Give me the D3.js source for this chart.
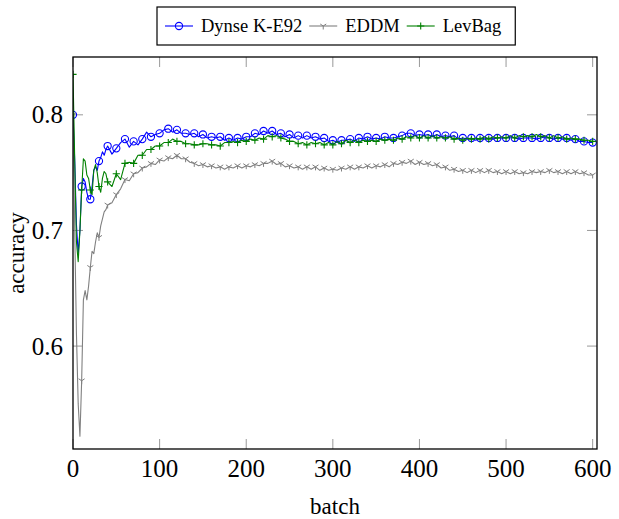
<!DOCTYPE html>
<html>
<head>
<meta charset="utf-8">
<script src="https://cdn.jsdelivr.net/npm/d3@7"></script>
<style>
  body { margin: 0; background: #fff; }
  svg { display: block; font-family: "Liberation Serif", "Times New Roman", serif; }
</style>
</head>
<body>
<div id="chart"></div>
<script>
const WIDTH = 619;
const HEIGHT = 519;
const MARGIN = { top: 57, right: 22, bottom: 70, left: 73 };
const INNER_WIDTH = WIDTH - MARGIN.left - MARGIN.right;
const INNER_HEIGHT = HEIGHT - MARGIN.top - MARGIN.bottom;

// batch numbers (x)
const batches = [
    0, 2, 4, 6, 8, 10, 12, 14, 16, 18, 20, 22, 24, 26, 28, 30, 32, 34, 36, 38, 40,
    45, 50, 55, 60, 65, 70, 75, 80, 85, 90,
    95, 100, 105, 110, 115, 120, 125, 130, 135, 140,
    145, 150, 155, 160, 165, 170, 175, 180, 185, 190,
    195, 200, 205, 210, 215, 220, 225, 230, 235, 240,
    245, 250, 255, 260, 265, 270, 275, 280, 285, 290,
    295, 300, 305, 310, 315, 320, 325, 330, 335, 340,
    345, 350, 355, 360, 365, 370, 375, 380, 385, 390,
    395, 400, 405, 410, 415, 420, 425, 430, 435, 440,
    445, 450, 455, 460, 465, 470, 475, 480, 485, 490,
    495, 500, 505, 510, 515, 520, 525, 530, 535, 540,
    545, 550, 555, 560, 565, 570, 575, 580, 585, 590,
    595, 600
];

const dynse = [
    0.800, 0.760, 0.705, 0.680, 0.700, 0.738, 0.745, 0.742, 0.733, 0.727, 0.727, 0.738, 0.752, 0.755, 0.752, 0.760, 0.763, 0.768, 0.765, 0.770, 0.773,
    0.766, 0.771, 0.776, 0.779, 0.772, 0.777, 0.774, 0.779, 0.785, 0.781,
    0.783, 0.784, 0.787, 0.788, 0.785, 0.787, 0.784, 0.784, 0.783, 0.784,
    0.781, 0.783, 0.780, 0.781, 0.780, 0.781, 0.778, 0.780, 0.778, 0.780,
    0.779, 0.781, 0.781, 0.784, 0.783, 0.786, 0.784, 0.786, 0.783, 0.784,
    0.781, 0.783, 0.780, 0.782, 0.780, 0.782, 0.780, 0.781, 0.779, 0.780,
    0.777, 0.778, 0.776, 0.778, 0.778, 0.779, 0.777, 0.780, 0.779, 0.781,
    0.779, 0.780, 0.779, 0.781, 0.780, 0.780, 0.781, 0.782, 0.784, 0.784,
    0.782, 0.783, 0.782, 0.783, 0.781, 0.783, 0.781, 0.782, 0.781, 0.782,
    0.779, 0.780, 0.779, 0.780, 0.778, 0.780, 0.779, 0.780, 0.779, 0.780,
    0.780, 0.780, 0.781, 0.780, 0.779, 0.780, 0.780, 0.780, 0.779, 0.780,
    0.781, 0.780, 0.779, 0.780, 0.779, 0.780, 0.778, 0.779, 0.777, 0.777,
    0.776, 0.776
];

const eddm = [
    0.800, 0.700, 0.610, 0.550, 0.522, 0.570, 0.640, 0.648, 0.640, 0.652, 0.668, 0.682, 0.680, 0.690, 0.698, 0.694, 0.704, 0.710, 0.716, 0.718, 0.722,
    0.724, 0.731, 0.736, 0.744, 0.743, 0.749, 0.750, 0.754, 0.755, 0.758,
    0.757, 0.761, 0.760, 0.763, 0.762, 0.765, 0.762, 0.762, 0.759, 0.758,
    0.756, 0.757, 0.755, 0.756, 0.754, 0.755, 0.753, 0.755, 0.754, 0.756,
    0.754, 0.756, 0.755, 0.757, 0.756, 0.758, 0.758, 0.760, 0.757, 0.758,
    0.755, 0.756, 0.754, 0.755, 0.753, 0.755, 0.753, 0.755, 0.752, 0.754,
    0.752, 0.753, 0.752, 0.754, 0.753, 0.755, 0.753, 0.755, 0.754, 0.756,
    0.754, 0.756, 0.755, 0.757, 0.755, 0.758, 0.757, 0.759, 0.758, 0.760,
    0.757, 0.759, 0.757, 0.758, 0.756, 0.757, 0.754, 0.755, 0.752, 0.753,
    0.751, 0.752, 0.750, 0.752, 0.750, 0.752, 0.750, 0.752, 0.750, 0.751,
    0.749, 0.751, 0.749, 0.751, 0.749, 0.750, 0.749, 0.751, 0.750, 0.751,
    0.750, 0.752, 0.750, 0.751, 0.749, 0.751, 0.749, 0.751, 0.749, 0.750,
    0.748, 0.748
];

const levbag = [
    0.835, 0.760, 0.690, 0.673, 0.700, 0.735, 0.762, 0.760, 0.748, 0.745, 0.735, 0.731, 0.752, 0.757, 0.750, 0.738, 0.733, 0.745, 0.751, 0.749, 0.742,
    0.738, 0.749, 0.744, 0.758, 0.759, 0.758, 0.765, 0.765, 0.770, 0.770,
    0.773, 0.773, 0.776, 0.776, 0.779, 0.777, 0.777, 0.775, 0.775, 0.774,
    0.774, 0.775, 0.775, 0.774, 0.774, 0.773, 0.776, 0.776, 0.777, 0.776,
    0.778, 0.777, 0.779, 0.778, 0.780, 0.779, 0.782, 0.781, 0.782, 0.780,
    0.779, 0.777, 0.777, 0.775, 0.776, 0.774, 0.776, 0.775, 0.776, 0.774,
    0.776, 0.774, 0.777, 0.775, 0.778, 0.776, 0.778, 0.776, 0.778, 0.777,
    0.778, 0.777, 0.779, 0.778, 0.779, 0.778, 0.780, 0.779, 0.781, 0.780,
    0.782, 0.780, 0.782, 0.780, 0.782, 0.780, 0.781, 0.780, 0.781, 0.779,
    0.780, 0.778, 0.780, 0.779, 0.780, 0.779, 0.781, 0.779, 0.781, 0.780,
    0.781, 0.780, 0.782, 0.780, 0.782, 0.781, 0.782, 0.781, 0.783, 0.781,
    0.782, 0.780, 0.782, 0.780, 0.781, 0.779, 0.780, 0.779, 0.779, 0.778,
    0.778, 0.777
];

const xTicks = [0, 100, 200, 300, 400, 500, 600];
const yTicks = [0.6, 0.7, 0.8];

const SERIES = [
    { name: "Dynse K-E92", values: dynse, color: "#0000ff", mark: "circle" },
    { name: "EDDM", values: eddm, color: "#808080", mark: "tri" },
    { name: "LevBag", values: levbag, color: "#008000", mark: "plus" }
];

function drawMark(g, type, color) {
    if (type === "circle") {
        g.append("circle").attr("r", 3.6)
            .attr("fill", "none").attr("stroke", color).attr("stroke-width", 1.1);
    } else if (type === "plus") {
        g.append("path").attr("d", "M-3.6,0H3.6M0,-3.6V3.6")
            .attr("stroke", color).attr("stroke-width", 1.1);
    } else {
        g.append("path").attr("d", "M0,0V3.5M0,0L-3,-2M0,0L3,-2")
            .attr("stroke", color).attr("stroke-width", 1);
    }
}

function createChart() {
    d3.select("#chart").selectAll("*").remove();

    const root = d3.select("#chart")
        .append("svg")
        .attr("width", WIDTH)
        .attr("height", HEIGHT)
        .attr("viewBox", `0 0 ${WIDTH} ${HEIGHT}`);

    const svg = root.append("g")
        .attr("transform", `translate(${MARGIN.left},${MARGIN.top})`);

    const x = d3.scaleLinear().domain([0, 605]).range([0, INNER_WIDTH]);
    const y = d3.scaleLinear().domain([0.511, 0.850]).range([INNER_HEIGHT, 0]);

    svg.append("clipPath").attr("id", "clip")
        .append("rect").attr("width", INNER_WIDTH).attr("height", INNER_HEIGHT);

    // --- Tick marks (inside, all four sides) ---
    const TICK = 10;
    const ticks = svg.append("g").attr("stroke", "#999").attr("stroke-width", 1);
    xTicks.forEach(t => {
        ticks.append("line").attr("x1", x(t)).attr("x2", x(t)).attr("y1", INNER_HEIGHT).attr("y2", INNER_HEIGHT - TICK);
        ticks.append("line").attr("x1", x(t)).attr("x2", x(t)).attr("y1", 0).attr("y2", TICK);
    });
    yTicks.forEach(t => {
        ticks.append("line").attr("x1", 0).attr("x2", TICK).attr("y1", y(t)).attr("y2", y(t));
        ticks.append("line").attr("x1", INNER_WIDTH).attr("x2", INNER_WIDTH - TICK).attr("y1", y(t)).attr("y2", y(t));
    });

    // --- Lines + markers ---
    const line = d3.line()
        .x((d, i) => x(batches[i]))
        .y(d => y(d));

    const plot = svg.append("g").attr("clip-path", "url(#clip)");
    SERIES.forEach(s => {
        plot.append("path")
            .datum(s.values)
            .attr("fill", "none")
            .attr("stroke", s.color)
            .attr("stroke-width", 1.1)
            .attr("stroke-linejoin", "round")
            .attr("d", line);

        const marked = s.values
            .map((v, i) => ({ b: batches[i], v }))
            .filter(d => d.b % 10 === 0);
        plot.selectAll(null)
            .data(marked)
            .join("g")
            .attr("transform", d => `translate(${x(d.b)},${y(d.v)})`)
            .each(function() { drawMark(d3.select(this), s.mark, s.color); });
    });

    // --- Frame ---
    svg.append("rect")
        .attr("width", INNER_WIDTH).attr("height", INNER_HEIGHT)
        .attr("fill", "none").attr("stroke", "#000").attr("stroke-width", 1.3);

    // --- Tick labels ---
    svg.selectAll(".xlab")
        .data(xTicks)
        .join("text")
        .attr("x", d => x(d))
        .attr("y", INNER_HEIGHT + 28)
        .attr("text-anchor", "middle")
        .style("font-size", "25px")
        .text(d => d);

    svg.selectAll(".ylab")
        .data(yTicks)
        .join("text")
        .attr("x", -10)
        .attr("y", d => y(d) + 8.5)
        .attr("text-anchor", "end")
        .style("font-size", "25px")
        .text(d => d3.format(".1f")(d));

    // --- Axis labels ---
    svg.append("text")
        .attr("x", INNER_WIDTH / 2)
        .attr("y", INNER_HEIGHT + 65)
        .attr("text-anchor", "middle")
        .style("font-size", "23px")
        .text("batch");

    svg.append("text")
        .attr("transform", `translate(${24 - MARGIN.left},${INNER_HEIGHT / 2}) rotate(-90)`)
        .attr("text-anchor", "middle")
        .style("font-size", "23px")
        .text("accuracy");

    // --- Legend ---
    const legend = root.append("g");
    const box = legend.append("rect")
        .attr("fill", "#fff").attr("stroke", "#000").attr("stroke-width", 1.2);
    let lx = 165;
    const ly = 26;
    SERIES.forEach(s => {
        legend.append("line")
            .attr("x1", lx).attr("x2", lx + 28).attr("y1", ly).attr("y2", ly)
            .attr("stroke", s.color).attr("stroke-width", 1.1);
        const m = legend.append("g").attr("transform", `translate(${lx + 14},${ly})`);
        drawMark(m, s.mark, s.color);
        const t = legend.append("text")
            .attr("x", lx + 36).attr("y", ly + 6)
            .style("font-size", "18.5px")
            .text(s.name);
        lx += 36 + t.node().getComputedTextLength() + 7;
    });
    box.attr("x", 157).attr("y", 7).attr("width", lx - 157 + 7).attr("height", 38);
}

createChart();
</script>
</body>
</html>
